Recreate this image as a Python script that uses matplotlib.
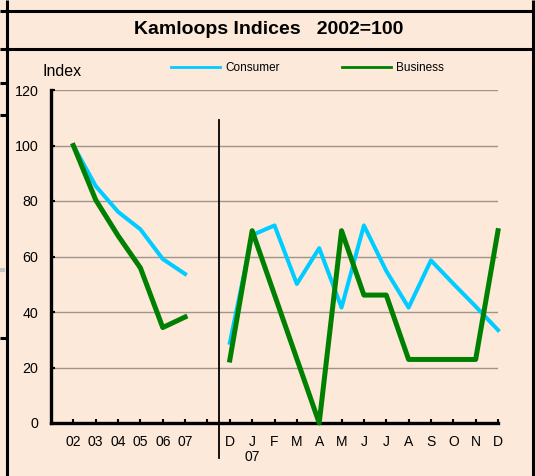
import numpy as np
import matplotlib
matplotlib.use('Agg')
import matplotlib.pyplot as plt
from matplotlib.lines import Line2D

plt.rcParams['font.family'] = ['Liberation Sans', 'DejaVu Sans']

# 数据：年度 02-07，然后空一格，再是 2006-12 到 2007-12 的月度值
years = ['02', '03', '04', '05', '06', '07']
months = ['D', 'J\n07', 'F', 'M', 'A', 'M', 'J', 'J', 'A', 'S', 'O', 'N', 'D']
consumer_year = [100, 85.4, 76.1, 69.8, 59.1, 53.7]
business_year = [100, 80.4, 67.5, 55.9, 34.4, 38.2]
consumer_month = [28.9, 67.7, 71.2, 50.1, 63.0, 41.6, 71.2, 54.8, 41.6, 58.6, 50.2, 42.0, 33.5]
business_month = [22.7, 69.3, 46.2, 23.1, 0.0, 69.3, 46.1, 46.1, 22.9, 22.9, 22.9, 22.9, 69.3]
yticks = [0, 20, 40, 60, 80, 100, 120]

labels = years + [''] + months
x = np.arange(len(labels))
consumer = consumer_year + [np.nan] + consumer_month
business = business_year + [np.nan] + business_month
split = len(years) + 0.5

bg = '#FCE9DA'
W, H = 535, 476
fig = plt.figure(figsize=(W / 100, H / 100), dpi=100, facecolor=bg)


def fx(px):
    return px / W


def fy(py):
    return 1 - py / H


# 外框
def frame_line(x0, y0, x1, y1, lw=2.2, color='black'):
    fig.add_artist(Line2D([fx(x0), fx(x1)], [fy(y0), fy(y1)], transform=fig.transFigure,
                          color=color, lw=lw, solid_capstyle='butt'))


frame_line(6.5, 0, 6.5, H)
frame_line(532.5, 0, 532.5, H)
frame_line(0, 10.5, W, 10.5)
frame_line(0, 48.5, 532.5, 48.5)
for yy in [83, 115, 338]:
    frame_line(0, yy, 6.5, yy)
frame_line(0, 270, 5, 270, lw=3, color='#C4C4C4')

fig.text(fx(269), fy(29.5), 'Kamloops Indices   2002=100', ha='center', va='center',
         fontsize=14, fontweight='bold')
fig.text(fx(43), fy(72), 'Index', ha='left', va='center', fontsize=11.5)

ax = fig.add_axes([fx(51), fy(423), fx(498) - fx(51), fy(90) - fy(423)])
ax.set_facecolor(bg)

ax.plot(x, consumer, color='#00CCFF', lw=2.9, label='Consumer', solid_joinstyle='round',
        clip_on=False, zorder=3)
ax.plot(x, business, color='#008000', lw=3.6, label='Business', solid_joinstyle='round',
        clip_on=False, zorder=4)

ax.set_xlim(-1, len(labels) - 1)
ax.set_ylim(0, 120)
ax.set_yticks(yticks)
ax.set_xticks(x)
ax.set_xticklabels(labels, fontsize=10, linespacing=1.05)
ax.tick_params(axis='y', direction='in', length=3, width=1.5, labelsize=10.3, pad=9)
ax.tick_params(axis='x', direction='in', length=3, width=1.5, pad=9)

ax.grid(axis='y', color='#A0958C', lw=1)
ax.set_axisbelow(True)
for s in ['top', 'right']:
    ax.spines[s].set_visible(False)
ax.spines['left'].set_linewidth(2.4)
ax.spines['bottom'].set_linewidth(2.4)

# 年度与月度之间的分隔线
ax.plot([split, split], [-12.6, 109.2], color='black', lw=1.3, clip_on=False, zorder=5)

leg = fig.legend(loc='center', bbox_to_anchor=(fx(307.5), fy(67.7)), ncol=2, frameon=False,
                 fontsize=8.5, handlelength=4.15, handletextpad=0.45, columnspacing=5.2,
                 borderpad=0, borderaxespad=0)
for l in leg.get_lines():
    l.set_linewidth(2)

fig.savefig('out.png', dpi=100, facecolor=bg)
